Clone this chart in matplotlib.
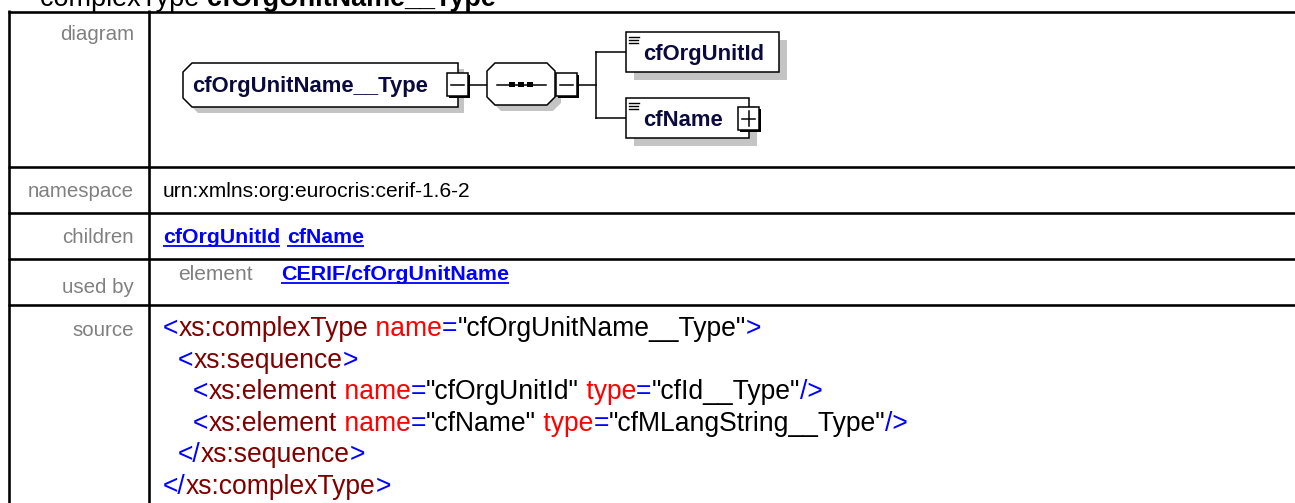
import matplotlib
matplotlib.use("Agg")
import matplotlib.pyplot as plt
from matplotlib.patches import Polygon, Rectangle
from matplotlib.textpath import TextPath
from matplotlib.font_manager import FontProperties

PT = 72 / 100  # points per pixel at dpi 100
FONT = "Liberation Sans"

title_kind = "complexType"
title_name = "cfOrgUnitName__Type"
row_labels = ["diagram", "namespace", "children", "used by", "source"]
label_baselines = [40, 197, 243, 293, 336]
row_lines = [11.5, 167, 213, 259, 305]
namespace = "urn:xmlns:org:eurocris:cerif-1.6-2"
children = ["cfOrgUnitId", "cfName"]
used_by_kind = "element"
used_by = "CERIF/cfOrgUnitName"
diagram_type = "cfOrgUnitName__Type"
diagram_children = ["cfOrgUnitId", "cfName"]

# source listing: (indent, [(text, role), ...])
source_lines = [
    (0, [("<", "p"), ("xs:complexType", "t"), (" name", "a"), ("=", "p"),
         ('"cfOrgUnitName__Type"', "v"), (">", "p")]),
    (1, [("<", "p"), ("xs:sequence", "t"), (">", "p")]),
    (2, [("<", "p"), ("xs:element", "t"), (" name", "a"), ("=", "p"),
         ('"cfOrgUnitId"', "v"), (" type", "a"), ("=", "p"),
         ('"cfId__Type"', "v"), ("/>", "p")]),
    (2, [("<", "p"), ("xs:element", "t"), (" name", "a"), ("=", "p"),
         ('"cfName"', "v"), (" type", "a"), ("=", "p"),
         ('"cfMLangString__Type"', "v"), ("/>", "p")]),
    (1, [("</", "p"), ("xs:sequence", "t"), (">", "p")]),
    (0, [("</", "p"), ("xs:complexType", "t"), (">", "p")]),
]
role_colors = {"p": "#0000ff", "t": "#800000", "a": "#ff0000", "v": "#000000"}

LINK = "#0000ff"
GRAY = "#808080"
NAVY = "#0a0a3c"
SHADOW = "#c4c4c4"


def advance(s, px, bold=False):
    """Width in pixels of string s at font size px."""
    fp = FontProperties(family=FONT, weight="bold" if bold else "normal", size=px * PT)
    a = TextPath((0, 0), s + "|", prop=fp).get_extents().x1
    b = TextPath((0, 0), "|", prop=fp).get_extents().x1
    return (a - b) / PT


def put(ax, x, y, s, px, color="black", bold=False, ha="left", underline=False):
    ax.text(x, y, s, fontsize=px * PT, family=FONT, color=color,
            weight="bold" if bold else "normal", ha=ha, va="baseline")
    w = advance(s, px, bold)
    if underline:
        ax.plot([x, x + w], [y + 2.5, y + 2.5], color=color, lw=1.3 * PT * 1.4,
                solid_capstyle="butt")
    return x + w


def button(ax, x0, y0, w, h, plus=False):
    ax.add_patch(Rectangle((x0 + 2, y0 + 2), w, h, facecolor="black",
                           edgecolor="none", zorder=5))
    ax.add_patch(Rectangle((x0, y0), w, h, facecolor="white",
                           edgecolor="black", lw=1.1, zorder=6))
    cx, cy = x0 + w / 2, y0 + h / 2
    ax.plot([x0 + 4, x0 + w - 4], [cy, cy], color="black", lw=1.1, zorder=7)
    if plus:
        ax.plot([cx, cx], [y0 + 4, y0 + h - 4], color="black", lw=1.1, zorder=7)


def shape(ax, pts, off=6):
    ax.add_patch(Polygon([(x + off, y + off) for x, y in pts], closed=True,
                         facecolor=SHADOW, edgecolor="none", zorder=2))
    ax.add_patch(Polygon(pts, closed=True, facecolor="white",
                         edgecolor="black", lw=1.1, zorder=3))


fig = plt.figure(figsize=(12.95, 5.03), dpi=100)
ax = fig.add_axes([0, 0, 1, 1])
ax.set_xlim(0, 1295)
ax.set_ylim(503, 0)
ax.axis("off")

# title (partly cut off at the top)
x = put(ax, 40, 6, title_kind + " ", 27)
put(ax, x, 6, title_name, 27, bold=True)

# table grid
lw_grid = 2.6 * PT
for y in row_lines:
    ax.plot([8, 1295], [y, y], color="black", lw=lw_grid, solid_capstyle="butt")
for xv in [9, 149]:
    ax.plot([xv, xv], [10.2, 503], color="black", lw=lw_grid, solid_capstyle="butt")

# row labels
for lab, yb in zip(row_labels, label_baselines):
    put(ax, 134, yb, lab, 20.5, color=GRAY, ha="right")

# namespace
put(ax, 163, 197, namespace, 21)

# children links
x = 163
for c in children:
    x = put(ax, x, 243, c, 21.3, color=LINK, bold=True, underline=True)
    x += advance(" ", 21.3, bold=True) + 1

# used by
put(ax, 178, 280, used_by_kind, 21, color=GRAY)
put(ax, 281, 280, used_by, 21.5, color=LINK, bold=True, underline=True)

# source listing
for i, (indent, toks) in enumerate(source_lines):
    x = 163 + 15 * indent
    y = 336 + 31.6 * i
    for s, role in toks:
        x = put(ax, x, y, s, 26.5, color=role_colors[role])

# diagram: main complex type box
shape(ax, [(192, 63), (458, 63), (458, 107), (192, 107), (183, 98), (183, 72)])
ax.text(192, 92, diagram_type, fontsize=22 * PT, family=FONT, weight="bold",
        color=NAVY, va="baseline", zorder=4)
button(ax, 447, 73, 21, 23)
ax.plot([470, 487], [84.5, 84.5], color="black", lw=1.1, zorder=3)

# sequence compositor
shape(ax, [(495, 63), (547, 63), (555, 71), (555, 97), (547, 105),
           (495, 105), (487, 97), (487, 71)])
ax.plot([497, 546], [84.5, 84.5], color="black", lw=1.1, zorder=4)
for dx in [512, 521, 530]:
    ax.add_patch(Rectangle((dx - 3, 82), 6, 5, facecolor="black",
                           edgecolor="none", zorder=5))
button(ax, 556, 73, 21, 23)
ax.plot([579, 596], [84.5, 84.5], color="black", lw=1.1, zorder=3)
ax.plot([596, 596], [52, 118], color="black", lw=1.1, zorder=3)
for yc in [52, 118]:
    ax.plot([596, 626], [yc, yc], color="black", lw=1.1, zorder=3)

# child element boxes
child_boxes = [(626, 32, 153, 40), (626, 98, 123, 40)]
for (bx, by, bw, bh), name in zip(child_boxes, diagram_children):
    shape(ax, [(bx, by), (bx + bw, by), (bx + bw, by + bh), (bx, by + bh)], off=8)
    for k in range(3):
        ax.plot([629, 638 if k else 639], [by + 5 + 3 * k, by + 5 + 3 * k],
                color="black", lw=1.0, zorder=4)
    ax.text(643, by + bh / 2 + 8, name, fontsize=22 * PT, family=FONT,
            weight="bold", color=NAVY, va="baseline", zorder=4)
button(ax, 738, 107, 21, 23, plus=True)

fig.savefig("out.png", dpi=100)
